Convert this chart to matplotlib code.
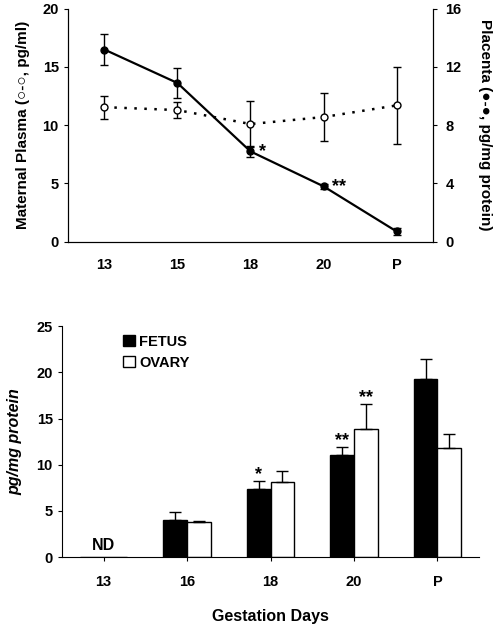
import matplotlib
matplotlib.use("Agg")
import matplotlib.pyplot as plt
import numpy as np

plt.rcParams['font.family'] = ['Liberation Sans', 'DejaVu Sans']
plt.rcParams['font.weight'] = 'bold'

# Top panel data
top_days = ["13", "15", "18", "20", "P"]
plasma = [11.55, 11.3, 10.1, 10.7, 11.7]          # left axis, pg/ml
plasma_err = [1.0, 0.65, 2.0, 2.05, 3.3]
placenta = [13.2, 10.9, 6.2, 3.8, 0.7]             # right axis, pg/mg protein
placenta_err = [1.05, 1.0, 0.4, 0.15, 0.25]
placenta_marks = ["", "", "*", "**", ""]

# Bottom panel data
bot_days = ["13", "16", "18", "20", "P"]
fetus = [0, 4.0, 7.35, 11.05, 19.3]
fetus_err = [0, 0.9, 0.85, 0.85, 2.1]
ovary = [0, 3.8, 8.15, 13.9, 11.85]
ovary_err = [0, 0.1, 1.15, 2.7, 1.45]
fetus_marks = ["", "", "*", "**", ""]
ovary_marks = ["", "", "", "**", ""]

fig = plt.figure(figsize=(4.95, 6.26), dpi=100)

# ---------- Top panel ----------
ax1 = fig.add_axes([0.137, 0.614, 0.738, 0.372])
x = np.arange(len(top_days))
ax1.errorbar(x, plasma, yerr=plasma_err, fmt='o', linestyle=(0, (1, 3)), color='black',
             mfc='white', mec='black', ms=5, lw=1.8, elinewidth=1.0, capsize=3, capthick=1.0, zorder=3)
ax1.set_ylim(0, 20)
ax1.set_xlim(-0.5, 4.5)
ax1.set_yticks([0, 5, 10, 15, 20])
ax1.set_xticks(x)
ax1.set_xticklabels(top_days)
ax1.tick_params(axis='x', length=0, pad=12, labelsize=10.5)
ax1.tick_params(axis='y', length=3, labelsize=10.5)
ax1.spines['top'].set_visible(False)
ax1.set_ylabel("Maternal Plasma (○-○, pg/ml)", fontsize=11, fontweight='bold', labelpad=9)

ax2 = ax1.twinx()
ax2.errorbar(x, placenta, yerr=placenta_err, fmt='o-', color='black', ms=5, lw=1.6,
             elinewidth=1.0, capsize=3, capthick=1.0, zorder=4)
ax2.set_ylim(0, 16)
ax2.set_yticks([0, 4, 8, 12, 16])
ax2.tick_params(axis='y', length=3, pad=6, labelsize=10.5)
ax2.spines['top'].set_visible(False)
ax2.set_ylabel("Placenta (●-●, pg/mg protein)", fontsize=11, fontweight='bold',
               rotation=270, labelpad=22)
for xi, yi, m in zip(x, placenta, placenta_marks):
    if m:
        ax2.text(xi + 0.12, yi, m, fontsize=13, fontweight='bold', ha='left', va='center')

# ---------- Bottom panel ----------
ax3 = fig.add_axes([0.125, 0.110, 0.843, 0.369])
xb = np.arange(len(bot_days))
w = 0.285
ax3.bar(xb - w / 2, fetus, width=w, color='black', edgecolor='black', lw=1.0, label='FETUS')
ax3.bar(xb + w / 2, ovary, width=w, color='white', edgecolor='black', lw=1.0, label='OVARY')
for i in range(len(xb)):
    if fetus[i] > 0:
        ax3.errorbar(xb[i] - w / 2, fetus[i], yerr=[[0], [fetus_err[i]]], color='black',
                     elinewidth=1.0, capsize=4, capthick=1.0)
    if ovary[i] > 0:
        ax3.errorbar(xb[i] + w / 2, ovary[i], yerr=[[0], [ovary_err[i]]], color='black',
                     elinewidth=1.0, capsize=4, capthick=1.0)
    if fetus_marks[i]:
        ax3.text(xb[i] - w / 2, fetus[i] + fetus_err[i] - 0.2, fetus_marks[i], fontsize=13,
                 fontweight='bold', ha='center', va='bottom')
    if ovary_marks[i]:
        ax3.text(xb[i] + w / 2, ovary[i] + ovary_err[i] - 0.2, ovary_marks[i], fontsize=13,
                 fontweight='bold', ha='center', va='bottom')
ax3.text(xb[0], 0.5, "ND", fontsize=11.5, fontweight='bold', ha='center', va='bottom')
ax3.set_ylim(0, 25)
ax3.set_xlim(-0.5, 4.5)
ax3.set_yticks([0, 5, 10, 15, 20, 25])
ax3.set_xticks(xb)
ax3.set_xticklabels(bot_days)
ax3.tick_params(axis='x', length=3, pad=10, labelsize=10.5)
ax3.tick_params(axis='y', length=3, labelsize=10.5)
ax3.spines['top'].set_visible(False)
ax3.spines['right'].set_visible(False)
ax3.set_ylabel("pg/mg protein", fontsize=11.5, fontweight='bold', style='italic', labelpad=10)
ax3.set_xlabel("Gestation Days", fontsize=11.5, fontweight='bold', labelpad=14)
ax3.legend(loc='upper left', bbox_to_anchor=(0.115, 1.02), frameon=False,
           handlelength=0.8, handleheight=0.8, handletextpad=0.3, labelspacing=0.5,
           prop={'weight': 'bold', 'size': 10.5})

fig.savefig("out.png", dpi=100)
